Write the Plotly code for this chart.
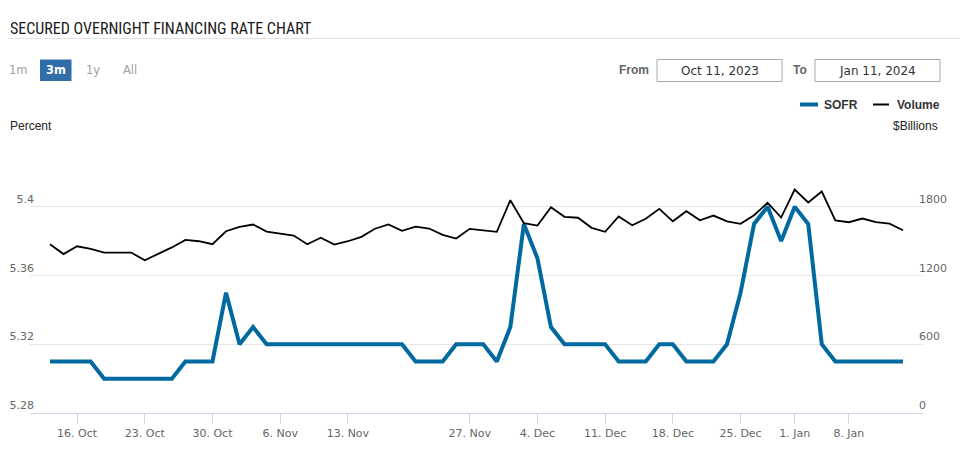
import plotly.graph_objects as go

# ---------------- data ----------------
dates = [
    "2023-10-12", "2023-10-13",
    "2023-10-16", "2023-10-17", "2023-10-18", "2023-10-19", "2023-10-20",
    "2023-10-23", "2023-10-24", "2023-10-25", "2023-10-26", "2023-10-27",
    "2023-10-30", "2023-10-31", "2023-11-01", "2023-11-02", "2023-11-03",
    "2023-11-06", "2023-11-07", "2023-11-08", "2023-11-09", "2023-11-10",
    "2023-11-13", "2023-11-14", "2023-11-15", "2023-11-16", "2023-11-17",
    "2023-11-20", "2023-11-21", "2023-11-22", "2023-11-24",
    "2023-11-27", "2023-11-28", "2023-11-29", "2023-11-30", "2023-12-01",
    "2023-12-04", "2023-12-05", "2023-12-06", "2023-12-07", "2023-12-08",
    "2023-12-11", "2023-12-12", "2023-12-13", "2023-12-14", "2023-12-15",
    "2023-12-18", "2023-12-19", "2023-12-20", "2023-12-21", "2023-12-22",
    "2023-12-26", "2023-12-27", "2023-12-28", "2023-12-29",
    "2024-01-02", "2024-01-03", "2024-01-04", "2024-01-05",
    "2024-01-08", "2024-01-09", "2024-01-10", "2024-01-11", "2024-01-12",
]

sofr = [
    5.31, 5.31, 5.31, 5.31, 5.30, 5.30, 5.30, 5.30, 5.30, 5.30,
    5.31, 5.31, 5.31, 5.35, 5.32, 5.33, 5.32, 5.32, 5.32, 5.32,
    5.32, 5.32, 5.32, 5.32, 5.32, 5.32, 5.32, 5.31, 5.31, 5.31,
    5.32, 5.32, 5.32, 5.31, 5.33, 5.39, 5.37, 5.33, 5.32, 5.32,
    5.32, 5.32, 5.31, 5.31, 5.31, 5.32, 5.32, 5.31, 5.31, 5.31,
    5.32, 5.35, 5.39, 5.40, 5.38, 5.40, 5.39, 5.32, 5.31, 5.31,
    5.31, 5.31, 5.31, 5.31,
]

volume = [
    1473, 1387, 1455, 1432, 1400, 1402, 1400, 1333, 1390, 1445,
    1511, 1499, 1473, 1586, 1625, 1645, 1583, 1563, 1549, 1473,
    1529, 1470, 1499, 1537, 1608, 1646, 1590, 1627, 1610, 1555,
    1522, 1607, 1597, 1581, 1857, 1656, 1636, 1796, 1712, 1704,
    1616, 1581, 1716, 1638, 1695, 1782, 1673, 1761, 1682, 1723,
    1673, 1651, 1726, 1834, 1706, 1950, 1837, 1933, 1680, 1665,
    1697, 1665, 1653, 1595,
]

holidays = ["2023-11-23", "2023-12-25", "2024-01-01"]

# week ticks; a Monday that is a holiday is shown at the next session
x_tick_vals = ["2023-10-16", "2023-10-23", "2023-10-30", "2023-11-06", "2023-11-13",
               "2023-11-27", "2023-12-04", "2023-12-11", "2023-12-18", "2023-12-26",
               "2024-01-02", "2024-01-08"]
x_tick_text = ["16. Oct", "23. Oct", "30. Oct", "6. Nov", "13. Nov",
               "27. Nov", "4. Dec", "11. Dec", "18. Dec", "25. Dec",
               "1. Jan", "8. Jan"]

pct_ticks = [5.28, 5.32, 5.36, 5.40, 5.44]
pct_labels = ["5.28", "5.32", "5.36", "5.4", ""]
vol_ticks = [0, 600, 1200, 1800, 2400]
vol_labels = ["0", "600", "1200", "1800", ""]

range_buttons = ["1m", "3m", "1y", "All"]
from_date = "Oct 11, 2023"
to_date = "Jan 11, 2024"

# ---------------- layout helpers ----------------
W, H = 960, 453
L, R, T, B = 30, 37, 138, 40
PW, PH = W - L - R, H - T - B


def px(x):
    return (x - L) / PW


def py(y):
    return (H - B - y) / PH


BLUE = "#006aa0"
BTN = "#2f6ea9"
SANS = "Liberation Sans, Arial, sans-serif"
LUC = "DejaVu Sans, sans-serif"

fig = go.Figure()
fig.add_trace(go.Scatter(x=dates, y=sofr, name="SOFR", mode="lines",
                         line=dict(color=BLUE, width=4), yaxis="y",
                         showlegend=False))
fig.add_trace(go.Scatter(x=dates, y=volume, name="Volume", mode="lines",
                         line=dict(color="#000000", width=1.8), yaxis="y2",
                         showlegend=False))

shapes = [
    dict(type="line", xref="paper", yref="paper", x0=px(8), x1=px(960),
         y0=py(38.5), y1=py(38.5), line=dict(color="#e3e3e3", width=1)),
    dict(type="rect", xref="paper", yref="paper", x0=px(40), x1=px(71.5),
         y0=py(59.5), y1=py(81), fillcolor=BTN, line=dict(width=0)),
    dict(type="rect", xref="paper", yref="paper", x0=px(657), x1=px(782),
         y0=py(59.5), y1=py(81.5), fillcolor="white",
         line=dict(color="#aaaaaa", width=1)),
    dict(type="rect", xref="paper", yref="paper", x0=px(815), x1=px(940),
         y0=py(59.5), y1=py(81.5), fillcolor="white",
         line=dict(color="#aaaaaa", width=1)),
    dict(type="line", xref="paper", yref="paper", x0=px(800), x1=px(818),
         y0=py(104.5), y1=py(104.5), line=dict(color=BLUE, width=4)),
    dict(type="line", xref="paper", yref="paper", x0=px(873), x1=px(889),
         y0=py(104.5), y1=py(104.5), line=dict(color="#000000", width=2)),
]

ann = []


def text(x, y, s, anchor="left", size=12, color="#333333", family=SANS):
    ann.append(dict(x=px(x), y=py(y), xref="paper", yref="paper", text=s,
                    showarrow=False, xanchor=anchor, yanchor="middle",
                    font=dict(size=size, color=color, family=family)))


text(8, 28, "SECURED OVERNIGHT FINANCING RATE CHART", size=16, color="#1a1a1a",
     family="Roboto Condensed, DejaVu Sans Condensed, Liberation Sans Narrow, sans-serif")
btn_x = [18.5, 56, 93, 129.5]
for bx, b in zip(btn_x, range_buttons):
    if b == "3m":
        text(bx, 70, "<b>" + b + "</b>", anchor="center", size=11.5,
             color="#ffffff", family=LUC)
    else:
        text(bx, 70, b, anchor="center", size=11.5, color="#a0a0a0", family=LUC)
text(651, 70, "<b>From</b>", anchor="right", size=12, color="#666666")
text(808.5, 70, "<b>To</b>", anchor="right", size=12, color="#666666")
text(719.5, 70.5, from_date, anchor="center", size=12, color="#333333", family=LUC)
text(877.5, 70.5, to_date, anchor="center", size=12, color="#333333", family=LUC)
text(822, 105, "<b>SOFR</b>", size=12, color="#333333")
text(895, 105, "<b>Volume</b>", size=12, color="#333333")
text(8, 126, "Percent", size=12, color="#222222")
text(939.5, 126, "$Billions", anchor="right", size=12, color="#222222")

fig.update_layout(
    width=W, height=H,
    margin=dict(l=L, r=R, t=T, b=B, pad=0, autoexpand=False),
    paper_bgcolor="white", plot_bgcolor="white",
    showlegend=False,
    shapes=shapes, annotations=ann,
    xaxis=dict(
        type="date", automargin=False,
        range=["2023-10-10 12:34", "2024-01-15 11:26"],
        rangebreaks=[dict(bounds=["sat", "mon"]), dict(values=holidays)],
        tickmode="array", tickvals=x_tick_vals, ticktext=x_tick_text,
        ticks="outside", ticklen=10, tickcolor="#ccd6eb",
        showline=True, linecolor="#ccd6eb", linewidth=1,
        showgrid=False, zeroline=False,
        tickfont=dict(family=LUC, size=11, color="#666666"),
    ),
    yaxis=dict(
        automargin=False,
        range=[5.28, 5.44], tickmode="array", tickvals=pct_ticks,
        ticktext=pct_labels, showgrid=True, gridcolor="#e6e6e6",
        zeroline=False, ticks="", ticklabelposition="outside top",
        ticklabelstandoff=-5,
        tickfont=dict(family=LUC, size=11, color="#666666"),
    ),
    yaxis2=dict(
        automargin=False,
        range=[0, 2400], overlaying="y", side="right", tickmode="array",
        tickvals=vol_ticks, ticktext=vol_labels, showgrid=False,
        zeroline=False, ticks="", ticklabelposition="outside top",
        ticklabelstandoff=-5,
        tickfont=dict(family=LUC, size=11, color="#666666"),
    ),
)

fig.write_html("out.html")
